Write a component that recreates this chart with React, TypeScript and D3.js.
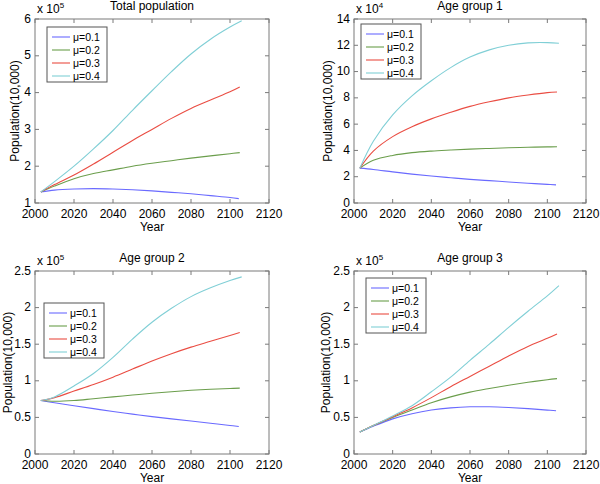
import React from "react";
import * as d3 from "d3";

const YEARS = [2003, 2010, 2020, 2030, 2040, 2050, 2060, 2070, 2080, 2090, 2100, 2105];
const END_YEARS = [2104.5, 2105, 2105, 2106];
const SERIES_NAMES = ["\u03bc=0.1", "\u03bc=0.2", "\u03bc=0.3", "\u03bc=0.4"];
const COLORS = ["#6a6aff", "#6b9e4c", "#ea4d43", "#80cfd6"];

// Total population (x10^5)
const TOTAL = [
  [1.3, 1.35, 1.38, 1.39, 1.38, 1.36, 1.33, 1.29, 1.25, 1.2, 1.15, 1.12],
  [1.3, 1.46, 1.66, 1.8, 1.9, 2.0, 2.08, 2.15, 2.22, 2.28, 2.34, 2.37],
  [1.3, 1.5, 1.76, 2.06, 2.38, 2.7, 3.0, 3.3, 3.57, 3.8, 4.02, 4.15],
  [1.3, 1.58, 2.0, 2.47, 2.97, 3.52, 4.05, 4.57, 5.05, 5.45, 5.78, 5.95],
];
// Age group 1 (x10^4)
const AGE1 = [
  [2.65, 2.55, 2.37, 2.2, 2.05, 1.92, 1.8, 1.7, 1.6, 1.5, 1.42, 1.38],
  [2.65, 3.25, 3.62, 3.83, 3.95, 4.03, 4.1, 4.15, 4.2, 4.24, 4.27, 4.28],
  [2.65, 3.95, 5.05, 5.8, 6.4, 6.9, 7.35, 7.7, 8.0, 8.22, 8.4, 8.45],
  [2.65, 4.7, 6.7, 8.15, 9.3, 10.3, 11.1, 11.65, 12.0, 12.18, 12.2, 12.15],
];
// Age group 2 (x10^5)
const AGE2 = [
  [0.73, 0.7, 0.66, 0.62, 0.58, 0.545, 0.51, 0.48, 0.45, 0.42, 0.39, 0.375],
  [0.73, 0.72, 0.73, 0.755, 0.78, 0.805, 0.83, 0.85, 0.87, 0.885, 0.895, 0.9],
  [0.73, 0.77, 0.86, 0.95, 1.05, 1.16, 1.27, 1.37, 1.46, 1.54, 1.62, 1.66],
  [0.73, 0.78, 0.93, 1.1, 1.32, 1.57, 1.8, 1.99, 2.15, 2.27, 2.37, 2.42],
];
// Age group 3 (x10^5)
const AGE3 = [
  [0.3, 0.38, 0.48, 0.55, 0.6, 0.63, 0.645, 0.645, 0.635, 0.62, 0.6, 0.59],
  [0.3, 0.39, 0.5, 0.6, 0.7, 0.78, 0.845, 0.895, 0.94, 0.98, 1.015, 1.03],
  [0.3, 0.39, 0.51, 0.63, 0.77, 0.92, 1.06, 1.2, 1.34, 1.47, 1.58, 1.64],
  [0.3, 0.39, 0.52, 0.66, 0.85, 1.05, 1.28, 1.5, 1.73, 1.95, 2.16, 2.3],
];

const X_TICKS = [2000, 2020, 2040, 2060, 2080, 2100, 2120];
const Y_TICKS_TOTAL = [1, 2, 3, 4, 5, 6];
const Y_TICKS_AGE1 = [0, 2, 4, 6, 8, 10, 12, 14];
const Y_TICKS_AGE23 = [0, 0.5, 1, 1.5, 2, 2.5];

const TITLES = ["Total population", "Age group 1", "Age group 2", "Age group 3"];
const EXPONENTS = ["5", "4", "5", "5"];

type PanelCfg = {
  title: string;
  exp: string;
  data: number[][];
  yTicks: number[];
  box: [number, number, number, number];
  legend: [number, number];
  ylabelX: number;
};

const panels: PanelCfg[] = [
  { title: TITLES[0], exp: EXPONENTS[0], data: TOTAL, yTicks: Y_TICKS_TOTAL, box: [35, 19, 269, 203], legend: [47, 27], ylabelX: 15 },
  { title: TITLES[1], exp: EXPONENTS[1], data: AGE1, yTicks: Y_TICKS_AGE1, box: [354, 19, 586, 203], legend: [361, 24], ylabelX: 328 },
  { title: TITLES[2], exp: EXPONENTS[2], data: AGE2, yTicks: Y_TICKS_AGE23, box: [35, 271, 269, 454], legend: [44, 303], ylabelX: 8 },
  { title: TITLES[3], exp: EXPONENTS[3], data: AGE3, yTicks: Y_TICKS_AGE23, box: [354, 271, 586, 454], legend: [366, 278], ylabelX: 326 },
];

const FONT = "'Liberation Sans', Arial, Helvetica, sans-serif";
const AXIS_COLOR = "#7a7a7a";

function Panel({ cfg }: { cfg: PanelCfg }) {
  const [x0, y0, x1, y1] = cfg.box;
  const yDom = d3.extent(cfg.yTicks) as [number, number];
  const x = d3.scaleLinear().domain([2000, 2120]).range([x0, x1]);
  const y = d3.scaleLinear().domain(yDom).range([y1, y0]);
  const line = d3
    .line<[number, number]>()
    .x((d) => x(d[0]))
    .y((d) => y(d[1]))
    .curve(d3.curveCatmullRom.alpha(0.5));
  const tl = 4;
  const [lx, ly] = cfg.legend;
  const cx = (x0 + x1) / 2;
  const cy = (y0 + y1) / 2;
  return (
    <g fontFamily={FONT}>
      <rect x={x0} y={y0} width={x1 - x0} height={y1 - y0} fill="#fff" stroke="none" />
      {cfg.data.map((s, i) => {
        const pts: [number, number][] = s.map((v, j) => [j === YEARS.length - 1 ? END_YEARS[i] : YEARS[j], v]);
        return <path key={i} d={line(pts) || ""} fill="none" stroke={COLORS[i]} strokeWidth={1.1} />;
      })}
      {X_TICKS.map((t) => (
        <g key={"x" + t}>
          <line x1={x(t)} x2={x(t)} y1={y1} y2={y1 - tl} stroke={AXIS_COLOR} />
          <line x1={x(t)} x2={x(t)} y1={y0} y2={y0 + tl} stroke={AXIS_COLOR} />
          <text x={x(t)} y={y1 + 14.5} textAnchor="middle" fontSize={12} fill="#000">
            {t}
          </text>
        </g>
      ))}
      {cfg.yTicks.map((t) => (
        <g key={"y" + t}>
          <line x1={x0} x2={x0 + tl} y1={y(t)} y2={y(t)} stroke={AXIS_COLOR} />
          <line x1={x1} x2={x1 - tl} y1={y(t)} y2={y(t)} stroke={AXIS_COLOR} />
          <text x={x0 - 4} y={y(t) + 3.5} textAnchor="end" fontSize={12} fill="#000">
            {String(t)}
          </text>
        </g>
      ))}
      <rect x={x0} y={y0} width={x1 - x0} height={y1 - y0} fill="none" stroke={AXIS_COLOR} strokeWidth={1} />
      <text x={x0 + 2} y={y0 - 6} fontSize={12} fill="#000">
        x 10
        <tspan dy={-5} fontSize={8}>
          {cfg.exp}
        </tspan>
      </text>
      <text x={cx} y={y0 - 9} textAnchor="middle" fontSize={12} fill="#000">
        {cfg.title}
      </text>
      <text x={cx} y={y1 + 28} textAnchor="middle" fontSize={12} fill="#000">
        Year
      </text>
      <text
        transform={`translate(${cfg.ylabelX},${cy}) rotate(-90)`}
        textAnchor="middle"
        dy={4}
        fontSize={12}
        fill="#000"
      >
        Population(10,000)
      </text>
      <rect x={lx} y={ly} width={60} height={55} fill="#fff" stroke="#555" strokeWidth={1} />
      {SERIES_NAMES.map((n, i) => {
        const yy = ly + 10 + i * 13;
        return (
          <g key={n}>
            <line x1={lx + 5} x2={lx + 23} y1={yy} y2={yy} stroke={COLORS[i]} strokeWidth={1.1} />
            <text x={lx + 26} y={yy + 3.5} fontSize={10.5} fill="#000">
              {n}
            </text>
          </g>
        );
      })}
    </g>
  );
}

export default function App() {
  return (
    <svg width={600} height={484} style={{ position: "absolute", left: 0, top: 0, background: "#fff" }}>
      <rect width={600} height={484} fill="#fff" />
      {panels.map((p, i) => (
        <Panel key={i} cfg={p} />
      ))}
    </svg>
  );
}
